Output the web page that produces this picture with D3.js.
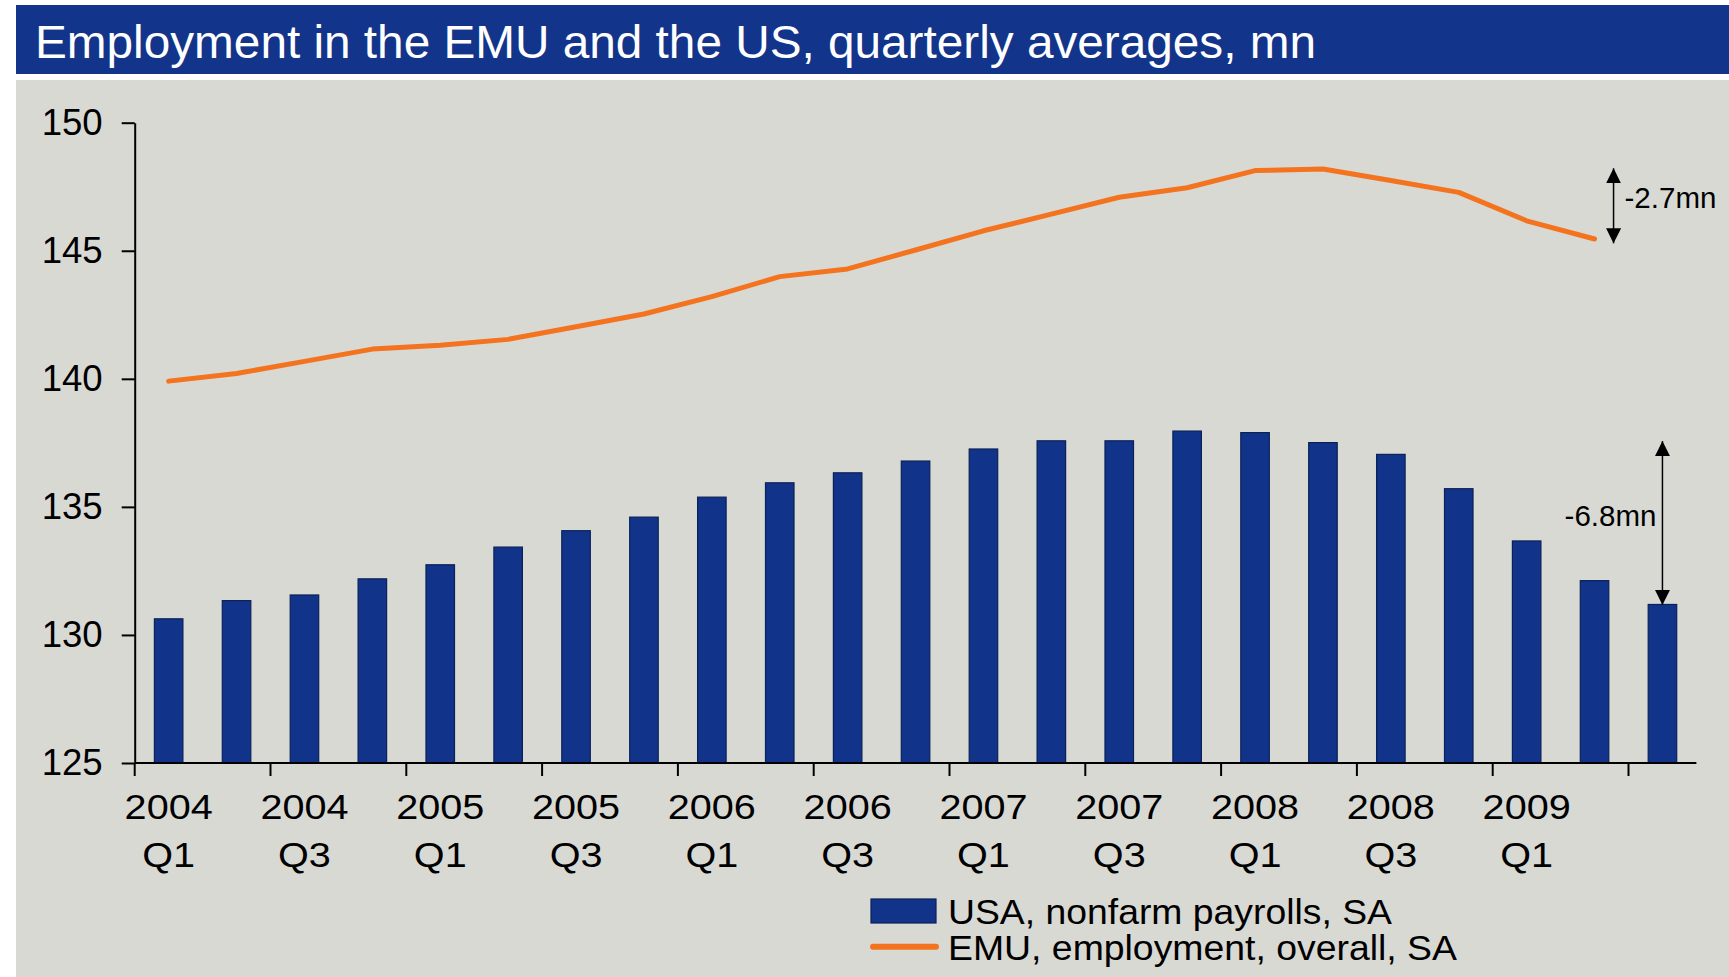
<!DOCTYPE html>
<html>
<head>
<meta charset="utf-8">
<script src="https://cdn.jsdelivr.net/npm/d3@7"></script>
<style>
  body { margin: 0; background: #fff; }
  svg { display: block; font-family: "Liberation Sans", Arial, sans-serif; }
</style>
</head>
<body>
<svg id="chart"></svg>
<script>
// quarters shown on the x axis
const quarters = [
  "2004Q1","2004Q2","2004Q3","2004Q4",
  "2005Q1","2005Q2","2005Q3","2005Q4",
  "2006Q1","2006Q2","2006Q3","2006Q4",
  "2007Q1","2007Q2","2007Q3","2007Q4",
  "2008Q1","2008Q2","2008Q3","2008Q4",
  "2009Q1","2009Q2","2009Q3"
];
// USA, nonfarm payrolls, SA (mn)
const usaPayrolls = [
  130.63, 131.34, 131.56, 132.19, 132.74, 133.43, 134.07, 134.60,
  135.38, 135.94, 136.33, 136.79, 137.26, 137.58, 137.58, 137.96,
  137.90, 137.51, 137.05, 135.71, 133.67, 132.12, 131.19
];
// EMU, employment, overall, SA (mn) - ends 2009Q2
const emuEmployment = [
  139.91, 140.21, 140.68, 141.16, 141.31, 141.54, 142.03, 142.53,
  143.21, 143.99, 144.29, 145.03, 145.78, 146.43, 147.09, 147.46,
  148.13, 148.19, 147.74, 147.28, 146.17, 145.46
];
const yTicks = [125, 130, 135, 140, 145, 150];
const labelledQuarters = quarters.filter((d, i) => i % 2 === 0 && i < 22);
// annotations: [quarter, from, to, text]
const notes = [
  {q: "2009Q2", from: 148.22, to: 145.29, label: "-2.7mn"},
  {q: "2009Q3", from: 137.57, to: 131.17, label: "-6.8mn"}
];

const width = 1729;
const height = 977;
const blue = "#11338a";
const orange = "#f4731f";

const svg = d3.select("#chart")
    .attr("width", width)
    .attr("height", height);

// title bar and panel
svg.append("rect")
    .attr("x", 16).attr("y", 5)
    .attr("width", width - 16).attr("height", 69)
    .attr("fill", "#12348a");
svg.append("text")
    .attr("x", 35).attr("y", 58)
    .attr("fill", "#fff")
    .attr("font-size", 47)
    .attr("textLength", 1281)
    .attr("lengthAdjust", "spacingAndGlyphs")
    .text("Employment in the EMU and the US, quarterly averages, mn");
svg.append("rect")
    .attr("x", 16).attr("y", 80)
    .attr("width", width - 16).attr("height", height - 80)
    .attr("fill", "#d9d9d4");

// scales
const x = d3.scaleBand()
    .domain(quarters)
    .range([134.7, 1696.4])
    .paddingInner(0.58)
    .paddingOuter(0.29);

const y = d3.scaleLinear()
    .domain([125, 150])
    .range([763, 122.7]);

const cx = q => x(q) + x.bandwidth() / 2;

// bars
svg.append("g")
  .selectAll("rect")
  .data(usaPayrolls)
  .join("rect")
    .attr("x", (d, i) => x(quarters[i]))
    .attr("y", d => y(d))
    .attr("width", x.bandwidth())
    .attr("height", d => y(125) - y(d))
    .attr("fill", blue)
    .attr("stroke", "#0a2258")
    .attr("stroke-width", 1.2);

// line
const line = d3.line()
    .x((d, i) => cx(quarters[i]))
    .y(d => y(d));

svg.append("path")
    .datum(emuEmployment)
    .attr("d", line)
    .attr("fill", "none")
    .attr("stroke", orange)
    .attr("stroke-width", 5)
    .attr("stroke-linejoin", "round")
    .attr("stroke-linecap", "round");

// y axis
const yAxis = svg.append("g")
    .attr("transform", `translate(${x.range()[0]},0)`)
    .call(d3.axisLeft(y).tickValues(yTicks).tickSize(13).tickSizeOuter(0).tickPadding(19));
yAxis.select(".domain").attr("stroke", "#000").attr("stroke-width", 2);
yAxis.selectAll(".tick line").attr("stroke", "#000").attr("stroke-width", 2);
yAxis.selectAll("text")
    .attr("font-family", "Liberation Sans, Arial, sans-serif")
    .attr("font-size", 36)
    .attr("fill", "#000")
    .attr("textLength", 61)
    .attr("lengthAdjust", "spacingAndGlyphs");

// x axis: labels at first quarter of each pair, ticks on boundaries
const xAxis = svg.append("g")
    .attr("transform", `translate(0,${y(125)})`)
    .call(d3.axisBottom(x).tickValues(labelledQuarters).tickSize(0).tickPadding(0));
xAxis.select(".domain").remove();
xAxis.selectAll(".tick text")
    .attr("font-family", "Liberation Sans, Arial, sans-serif")
    .attr("font-size", 36)
    .attr("fill", "#000")
    .attr("dy", null)
    .attr("y", 0)
    .attr("transform", "scale(1.1,1)")
    .text(null)
    .each(function(d) {
      const t = d3.select(this);
      t.append("tspan").attr("x", 0).attr("y", 56).text(d.slice(0, 4));
      t.append("tspan").attr("x", 0).attr("y", 104).text(d.slice(4));
    });

const step = x.step();
xAxis.append("line")
    .attr("x1", x.range()[0]).attr("x2", x.range()[1])
    .attr("stroke", "#000").attr("stroke-width", 2);
xAxis.selectAll(".bound")
  .data(d3.range(0, quarters.length, 2))
  .join("line")
    .attr("class", "bound")
    .attr("x1", i => x.range()[0] + i * step)
    .attr("x2", i => x.range()[0] + i * step)
    .attr("y1", 0).attr("y2", 13)
    .attr("stroke", "#000").attr("stroke-width", 2);

// annotations
svg.append("defs").append("marker")
    .attr("id", "head")
    .attr("viewBox", "0 0 10 10")
    .attr("refX", 10).attr("refY", 5)
    .attr("markerWidth", 15).attr("markerHeight", 15)
    .attr("markerUnits", "userSpaceOnUse")
    .attr("orient", "auto-start-reverse")
  .append("path")
    .attr("d", "M0,0L10,5L0,10Z")
    .attr("fill", "#000");

const ann = svg.append("g");
ann.selectAll("line")
  .data(notes)
  .join("line")
    .attr("x1", (d, i) => cx(d.q) + (i === 0 ? 19 : 0))
    .attr("x2", (d, i) => cx(d.q) + (i === 0 ? 19 : 0))
    .attr("y1", d => y(d.from))
    .attr("y2", d => y(d.to))
    .attr("stroke", "#000")
    .attr("stroke-width", 1.5)
    .attr("marker-start", "url(#head)")
    .attr("marker-end", "url(#head)");

ann.selectAll("text")
  .data(notes)
  .join("text")
    .attr("x", (d, i) => i === 0 ? cx(d.q) + 30 : cx(d.q) - 6)
    .attr("y", (d, i) => i === 0 ? 207.7 : 525.7)
    .attr("text-anchor", (d, i) => i === 0 ? "start" : "end")
    .attr("font-size", 29.5)
    .attr("fill", "#000")
    .text(d => d.label);

// legend
const legend = svg.append("g");
legend.append("rect")
    .attr("x", 871).attr("y", 899)
    .attr("width", 65).attr("height", 24)
    .attr("fill", blue)
    .attr("stroke", "#0a2258").attr("stroke-width", 1.2);
legend.append("line")
    .attr("x1", 873).attr("x2", 936)
    .attr("y1", 946.7).attr("y2", 946.7)
    .attr("stroke", orange).attr("stroke-width", 6)
    .attr("stroke-linecap", "round");
legend.append("text")
    .attr("x", 948).attr("y", 924.3)
    .attr("font-size", 35)
    .attr("textLength", 444)
    .attr("lengthAdjust", "spacingAndGlyphs")
    .text("USA, nonfarm payrolls, SA");
legend.append("text")
    .attr("x", 948).attr("y", 960)
    .attr("font-size", 35)
    .attr("textLength", 509)
    .attr("lengthAdjust", "spacingAndGlyphs")
    .text("EMU, employment, overall, SA");
</script>
</body>
</html>
